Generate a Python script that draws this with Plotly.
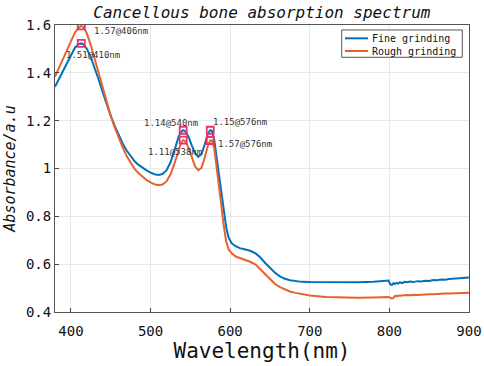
import plotly.graph_objects as go

wavelength = [380, 385, 390, 395, 400, 405, 410, 413, 416, 420, 425, 430, 435, 440, 445, 450,
              455, 460, 465, 470, 475, 480, 485, 490, 495, 500, 505, 510, 515, 520, 525, 530,
              535, 538, 541, 544, 548, 552, 556, 560, 564, 568, 572, 575, 577, 580, 583, 586,
              589, 592, 595, 598, 602, 607, 612, 618, 625, 632, 638, 644, 650, 656, 662, 668,
              675, 682, 690, 700, 720, 740, 760, 780, 790, 797, 799, 801, 803, 805, 807, 809,
              811, 813, 816, 819, 822, 826, 830, 835, 840, 845, 850, 855, 860, 865, 870, 875,
              880, 885, 890, 895, 900]

fine = [1.342, 1.375, 1.410, 1.445, 1.478, 1.505, 1.521, 1.523, 1.518, 1.500, 1.465, 1.420,
        1.370, 1.318, 1.268, 1.220, 1.178, 1.140, 1.105, 1.075, 1.050, 1.030, 1.015, 1.002,
        0.992, 0.983, 0.976, 0.973, 0.977, 0.992, 1.025, 1.075, 1.130, 1.152, 1.160, 1.155,
        1.130, 1.095, 1.063, 1.049, 1.060, 1.100, 1.145, 1.160, 1.158, 1.120, 1.050, 0.970,
        0.896, 0.820, 0.755, 0.712, 0.687, 0.675, 0.667, 0.662, 0.656, 0.645, 0.628, 0.605,
        0.585, 0.565, 0.550, 0.540, 0.533, 0.529, 0.526, 0.525, 0.524, 0.523, 0.524, 0.527,
        0.530, 0.534, 0.532, 0.516, 0.513, 0.520, 0.517, 0.522, 0.519, 0.524, 0.521, 0.526,
        0.524, 0.527, 0.525, 0.529, 0.528, 0.531, 0.530, 0.534, 0.533, 0.536, 0.535, 0.538,
        0.539, 0.538, 0.541, 0.542, 0.544]

rough = [1.384, 1.420, 1.458, 1.497, 1.535, 1.568, 1.590, 1.596, 1.590, 1.565, 1.515, 1.455,
         1.392, 1.330, 1.272, 1.220, 1.172, 1.128, 1.088, 1.052, 1.022, 0.998, 0.980, 0.965,
         0.952, 0.942, 0.934, 0.930, 0.933, 0.946, 0.975, 1.020, 1.075, 1.105, 1.119, 1.112,
         1.085, 1.045, 1.008, 0.993, 1.003, 1.045, 1.095, 1.117, 1.118, 1.085, 1.010, 0.925,
         0.845, 0.760, 0.695, 0.662, 0.645, 0.632, 0.626, 0.620, 0.610, 0.598, 0.578, 0.555,
         0.536, 0.518, 0.505, 0.495, 0.486, 0.480, 0.475, 0.469, 0.463, 0.460, 0.460, 0.461,
         0.462, 0.463, 0.463, 0.459, 0.457, 0.459, 0.467, 0.465, 0.469, 0.468, 0.470, 0.469,
         0.471, 0.470, 0.472, 0.471, 0.473, 0.472, 0.474, 0.474, 0.476, 0.475, 0.477, 0.477,
         0.478, 0.479, 0.478, 0.480, 0.481]

series_names = ["Fine grinding", "Rough grinding"]
series_colors = ["#0072BD", "#E8602C"]

peak_x = [413, 413, 541, 541, 575, 575]
peak_y = [1.523, 1.596, 1.160, 1.119, 1.160, 1.117]

label_text = ["1.57@406nm", "1.51@410nm", "1.14@540nm", "1.11@538nm", "1.15@576nm", "1.57@576nm"]
label_x = [427, 391, 489, 494, 576, 582]
label_y = [1.575, 1.474, 1.19, 1.069, 1.194, 1.102]

x_ticks = [400, 500, 600, 700, 800, 900]
y_ticks = [0.4, 0.6, 0.8, 1.0, 1.2, 1.4, 1.6]
y_ticktext = ["0.4", "0.6", "0.8", "1", "1.2", "1.4", "1.6"]

MONO = "DejaVu Sans Mono"

fig = go.Figure()
for vals, nm, col in zip([fine, rough], series_names, series_colors):
    fig.add_trace(go.Scatter(x=wavelength, y=vals, mode="lines", name=nm, showlegend=False,
                             line=dict(color=col, width=2)))
fig.add_trace(go.Scatter(x=peak_x, y=peak_y, mode="markers", showlegend=False,
                         marker=dict(symbol="square-open", size=7, color="#F0306A",
                                     line=dict(width=1.8, color="#F0306A"))))

for t, xx, yy in zip(label_text, label_x, label_y):
    fig.add_annotation(x=xx, y=yy, text=t, showarrow=False, xanchor="left", yanchor="middle",
                       font=dict(family=MONO, size=9, color="#333333"))

# compact legend box (paper coordinates)
fig.add_shape(type="rect", xref="paper", yref="paper", x0=0.6925, x1=0.9838, y0=0.8875,
              y1=0.9826, line=dict(color="#555555", width=1), fillcolor="white", layer="above")
legend_rows = [0.9536, 0.9094]
for nm, col, ry in zip(series_names, series_colors, legend_rows):
    fig.add_shape(type="line", xref="paper", yref="paper", x0=0.7005, x1=0.756, y0=ry, y1=ry,
                  line=dict(color=col, width=2), layer="above")
    fig.add_annotation(xref="paper", yref="paper", x=0.7609, y=ry, text=nm, showarrow=False,
                       xanchor="left", yanchor="middle",
                       font=dict(family=MONO, size=10, color="#111111"))

fig.update_layout(
    width=484, height=366,
    margin=dict(l=55, r=15, t=25, b=54),
    paper_bgcolor="white", plot_bgcolor="white",
    title=dict(text="<i>Cancellous bone absorption spectrum</i>", x=0.541, xanchor="center",
               y=0.967, yanchor="middle", font=dict(family=MONO, size=16, color="#111111")),
    showlegend=False,
    font=dict(family=MONO),
)
fig.update_xaxes(range=[380, 900], tickvals=x_ticks, ticks="inside", ticklen=4,
                 tickcolor="#444444", showline=True, mirror=True, linecolor="#555555",
                 linewidth=1, showgrid=True, gridcolor="#e8e8e8", zeroline=False,
                 automargin=False, ticklabelstandoff=6,
                 tickfont=dict(family=MONO, size=14, color="#111111"),
                 title=dict(text="Wavelength(nm)", standoff=4,
                            font=dict(family=MONO, size=21, color="#111111")))
fig.update_yaxes(range=[0.4, 1.6], tickvals=y_ticks, ticktext=y_ticktext, ticks="inside",
                 ticklen=4, tickcolor="#444444", showline=True, mirror=True,
                 linecolor="#555555", linewidth=1, showgrid=True, gridcolor="#e8e8e8",
                 zeroline=False, automargin=False,
                 tickfont=dict(family=MONO, size=14, color="#111111"),
                 title=dict(text="<i>Absorbance/a.u</i>", standoff=6,
                            font=dict(family=MONO, size=15, color="#111111")))

fig.write_html("out.html", config={"displayModeBar": False},
               post_script="document.body.style.margin='0px';")
